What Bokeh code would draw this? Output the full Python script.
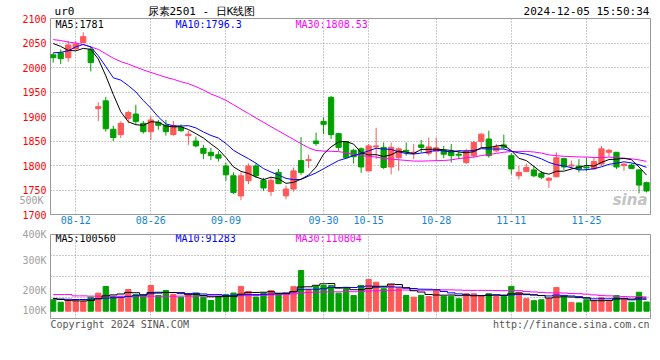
from bokeh.plotting import figure
from bokeh.layouts import column
from bokeh.models import Range1d, FixedTicker, Label, ColumnDataSource, LinearAxis
from bokeh.embed import file_html
from bokeh.resources import INLINE

# ---------------- data ----------------
dates = ["08-07", "08-08", "08-09", "08-12", "08-13", "08-14", "08-15", "08-16", "08-19", "08-20",
         "08-21", "08-22", "08-23", "08-26", "08-27", "08-28", "08-29", "08-30", "09-02", "09-03",
         "09-04", "09-05", "09-06", "09-09", "09-10", "09-11", "09-12", "09-13", "09-18", "09-19",
         "09-20", "09-23", "09-24", "09-25", "09-26", "09-27", "09-30", "10-08", "10-09", "10-10",
         "10-11", "10-14", "10-15", "10-16", "10-17", "10-18", "10-21", "10-22", "10-23", "10-24",
         "10-25", "10-28", "10-29", "10-30", "10-31", "11-01", "11-04", "11-05", "11-06", "11-07",
         "11-08", "11-11", "11-12", "11-13", "11-14", "11-15", "11-18", "11-19", "11-20", "11-21",
         "11-22", "11-25", "11-26", "11-27", "11-28", "11-29", "12-02", "12-03", "12-04", "12-05"]

opens = [2026, 2030, 2020, 2038, 2051, 2037, 1916, 1932, 1874, 1863,
         1896, 1905, 1886, 1869, 1888, 1882, 1863, 1878, 1861, 1850,
         1835, 1827, 1822, 1799, 1779, 1738, 1769, 1799, 1770, 1747,
         1786, 1738, 1752, 1810, 1810, 1850, 1890, 1939, 1865, 1849,
         1831, 1834, 1789, 1838, 1837, 1797, 1816, 1831, 1825, 1842,
         1825, 1829, 1831, 1829, 1823, 1806, 1820, 1849, 1854, 1830,
         1842, 1820, 1779, 1788, 1791, 1784, 1770, 1777, 1814, 1799,
         1799, 1797, 1793, 1803, 1827, 1827, 1800, 1801, 1791, 1765]
highs = [2030, 2037, 2054, 2054, 2072, 2044, 1929, 1940, 1881, 1890,
         1912, 1924, 1891, 1901, 1893, 1893, 1891, 1884, 1871, 1859,
         1842, 1836, 1829, 1806, 1786, 1786, 1804, 1804, 1775, 1775,
         1793, 1759, 1796, 1858, 1822, 1867, 1898, 1942, 1867, 1850,
         1834, 1837, 1844, 1877, 1847, 1847, 1837, 1847, 1844, 1852,
         1857, 1857, 1840, 1844, 1830, 1834, 1850, 1866, 1871, 1844,
         1863, 1825, 1799, 1804, 1799, 1789, 1776, 1827, 1816, 1810,
         1813, 1816, 1816, 1840, 1834, 1827, 1804, 1804, 1793, 1767]
lows = [2010, 2007, 2012, 2035, 2050, 1992, 1891, 1869, 1850, 1856,
        1886, 1884, 1865, 1852, 1873, 1861, 1861, 1869, 1842, 1837,
        1813, 1811, 1808, 1769, 1742, 1729, 1762, 1775, 1748, 1738,
        1762, 1731, 1747, 1781, 1795, 1840, 1864, 1854, 1830, 1815,
        1804, 1785, 1789, 1813, 1793, 1782, 1789, 1820, 1813, 1827,
        1820, 1810, 1815, 1806, 1813, 1803, 1815, 1836, 1816, 1827,
        1834, 1782, 1772, 1786, 1776, 1772, 1754, 1776, 1791, 1793,
        1786, 1789, 1791, 1799, 1818, 1793, 1789, 1793, 1743, 1745]
closes = [2020, 2018, 2046, 2048, 2063, 2010, 1920, 1875, 1857, 1886,
          1908, 1890, 1869, 1893, 1882, 1869, 1881, 1871, 1864, 1840,
          1825, 1820, 1815, 1781, 1745, 1779, 1799, 1779, 1754, 1770,
          1763, 1752, 1789, 1786, 1812, 1845, 1884, 1863, 1837, 1816,
          1818, 1797, 1840, 1840, 1796, 1837, 1834, 1829, 1827, 1837,
          1838, 1836, 1823, 1820, 1821, 1830, 1847, 1864, 1820, 1838,
          1837, 1793, 1786, 1796, 1779, 1776, 1774, 1816, 1797, 1801,
          1793, 1795, 1808, 1834, 1831, 1797, 1803, 1794, 1760, 1748]
volumes = [88000, 69000, 82000, 77000, 77000, 108000, 139000, 190000, 113000, 112000,
           167000, 129000, 114000, 198000, 121000, 159000, 128000, 108000, 120000, 139000,
           107000, 82000, 113000, 129000, 140000, 191000, 152000, 109000, 138000, 159000,
           134000, 139000, 189000, 313000, 165000, 190000, 198000, 197000, 139000, 172000,
           121000, 198000, 244000, 223000, 173000, 206000, 180000, 121000, 108000, 122000,
           113000, 160000, 114000, 115000, 96000, 135000, 134000, 114000, 135000, 113000,
           114000, 191000, 145000, 96000, 81000, 88000, 97000, 183000, 109000, 68000,
           64000, 88000, 77000, 106000, 76000, 121000, 96000, 69000, 146000, 71000]

# moving-average values at the start of the window (earlier sessions are off-chart)
ma5_head = [2049, 2043, 2035, 2034]
ma10_head = [2030, 2031, 2034, 2042, 2047, 2042, 2024, 2002, 1979]
ma30_head = [2057, 2055, 2052, 2050, 2047, 2042, 2037, 2028, 2019, 2012,
             2007, 2001, 1995, 1990, 1985, 1980, 1976, 1971, 1967, 1961,
             1954, 1946, 1940, 1933, 1924, 1915, 1906, 1897, 1888]
vma5_head = [98000, 90000, 84000, 80000]
vma10_head = [95000, 94000, 92000, 90000, 90000, 92000, 96000, 100000, 103000]
vma30_head = [128000, 128000, 128000, 118000, 118000, 116000, 115000, 115000, 115000, 115000,
              115000, 115000, 115000, 115000, 115000, 115000, 115000, 116000, 116000, 116000,
              116000, 117000, 117000, 118000, 118000, 119000, 120000, 121000, 122000]

tick_labels = ["08-12", "08-26", "09-09", "09-30", "10-15", "10-28", "11-11", "11-25"]
price_ticks = [1700, 1750, 1800, 1850, 1900, 1950, 2000, 2050, 2100]
price_ma_texts = ["MA5:1781", "MA10:1796.3", "MA30:1808.53"]
vol_ma_texts = ["MA5:100560", "MA10:91283", "MA30:110804"]
vol_axis_texts = ["500K", "400K", "300K", "200K", "100K"]
header_texts = ["ur0", "尿素2501 - 日K线图", "2024-12-05 15:50:34"]
footer_texts = ["Copyright 2024 SINA.COM", "http://finance.sina.com.cn"]

# ---------------- derived ----------------
def rolling(vals, head, w):
    out = list(head)
    for i in range(len(head), len(vals)):
        out.append(sum(vals[i - w + 1:i + 1]) / w)
    return out

n = len(dates)
xs = list(range(n))
RED = "#ff5858"
GREEN = "#00a000"
colors = [RED if c >= o else GREEN for o, c in zip(opens, closes)]

src = ColumnDataSource(dict(
    x=xs, o=opens, h=highs, l=lows, c=closes,
    top=[max(o, c) for o, c in zip(opens, closes)],
    bot=[min(o, c) for o, c in zip(opens, closes)],
    color=colors, vol=volumes,
    ma5=rolling(closes, ma5_head, 5), ma10=rolling(closes, ma10_head, 10),
    ma30=rolling(closes, ma30_head, 30),
    vma5=rolling(volumes, vma5_head, 5), vma10=rolling(volumes, vma10_head, 10),
    vma30=rolling(volumes, vma30_head, 30),
))

MONO = "DejaVu Sans Mono"
XS, XE = -0.36, 79.53
PY0, PY1 = 1700, 2100
VS, VE = -56000, 590000
GRAY = "#999999"

# helpers: pixel of the picture -> data coordinates
def px(rx):
    return round(XS + (rx - 50) * (XE - XS) / 600.0, 3)

def py(ry):
    return PY0 + (214 - ry) * (PY1 - PY0) / 196.0

def vy(ry):
    return VS + (318 - ry) * (VE - VS) / 84.0

def style_axis(ax, color, size="10px", standoff=4, font=MONO):
    ax.major_label_text_color = color
    ax.major_label_text_font = font
    ax.major_label_text_font_size = size
    ax.major_label_standoff = standoff
    ax.axis_line_color = None
    ax.major_tick_line_color = None
    ax.minor_tick_line_color = None
    ax.major_tick_out = 0
    ax.major_tick_in = 0
    ax.minor_tick_out = 0
    ax.minor_tick_in = 0

def style_grid(g):
    g.grid_line_color = GRAY
    g.grid_line_dash = "1 2"
    g.grid_line_width = 1

xticks = [dates.index(t) for t in tick_labels]

# ---------------- price panel ----------------
p = figure(frame_width=600, frame_height=196, x_range=Range1d(XS, XE), y_range=Range1d(PY0, PY1),
           output_backend="svg", toolbar_location=None,
           min_border_left=50, min_border_right=6, min_border_top=18, min_border_bottom=13)
p.outline_line_color = GRAY
p.background_fill_color = "white"
p.border_fill_color = "white"

p.yaxis.ticker = FixedTicker(ticks=price_ticks)
style_axis(p.yaxis[0], "#ff0000")

# volume scale label that sits beside the price panel
t500 = int(round(py(200.5)))
vaxis = LinearAxis(ticker=FixedTicker(ticks=[t500]), major_label_overrides={t500: vol_axis_texts[0]})
style_axis(vaxis, "#a0a0a0", standoff=-24)
p.add_layout(vaxis, "left")

p.xaxis.ticker = FixedTicker(ticks=xticks)
p.xaxis.major_label_overrides = {i: t for i, t in zip(xticks, tick_labels)}
style_axis(p.xaxis[0], "#1383d2", standoff=1)

# header line (code, title, timestamp)
hdr_ticks = [px(64), px(201), px(586)]
hdr = LinearAxis(ticker=FixedTicker(ticks=hdr_ticks),
                 major_label_overrides={t: s for t, s in zip(hdr_ticks, header_texts)})
style_axis(hdr, "#000000", size="11px", standoff=1)
p.add_layout(hdr, "above")

style_grid(p.xgrid)
style_grid(p.ygrid)

p.segment(x0="x", y0="l", x1="x", y1="h", line_color="color", line_width=1, source=src)
p.vbar(x="x", width=0.7, top="top", bottom="bot", fill_color="color", line_color="color",
       line_width=1, source=src)
p.line("x", "ma30", line_color="#ff00ff", line_width=1, source=src)
p.line("x", "ma10", line_color="#0000ff", line_width=1, source=src)
p.line("x", "ma5", line_color="#000000", line_width=1, source=src)

def lab(fig, x, y, text, color="black", size="10px", font=MONO, align="left", style="normal"):
    fig.add_layout(Label(x=x, y=y, text=text, text_color=color, text_font=font,
                         text_font_size=size, text_align=align, text_baseline="middle",
                         text_font_style=style))

lab(p, px(55), py(24.3), price_ma_texts[0], color="#000000")
lab(p, px(175), py(24.3), price_ma_texts[1], color="#0000ff")
lab(p, px(295), py(24.3), price_ma_texts[2], color="#ff00ff")
lab(p, px(647), py(199), "sina", color="#c4c4c4", size="15px", font="DejaVu Sans",
    align="right", style="bold italic")

# ---------------- volume panel ----------------
p2 = figure(frame_width=600, frame_height=84, x_range=p.x_range, y_range=Range1d(VS, VE),
            output_backend="svg", toolbar_location=None,
            min_border_left=50, min_border_right=6, min_border_top=7, min_border_bottom=12)
p2.outline_line_color = GRAY
p2.border_fill_color = "white"

# footer texts carried by the lower axis
ftr_ticks = [px(119.2), px(570.7)]
p2.xaxis.ticker = FixedTicker(ticks=ftr_ticks)
p2.xaxis.major_label_overrides = {t: s for t, s in zip(ftr_ticks, footer_texts)}
style_axis(p2.xaxis[0], "#555555", standoff=0)

p2.xgrid.ticker = FixedTicker(ticks=xticks)
p2.ygrid.ticker = FixedTicker(ticks=[int(vy(255)), int(vy(276)), int(vy(297))])
style_grid(p2.xgrid)
style_grid(p2.ygrid)

vticks = [VE, int(vy(260.3)), int(vy(290.3)), int(vy(310.3))]
p2.yaxis.ticker = FixedTicker(ticks=vticks)
p2.yaxis.major_label_overrides = {t: s for t, s in zip(vticks, vol_axis_texts[1:])}
style_axis(p2.yaxis[0], "#a0a0a0")

p2.vbar(x="x", width=0.7, top="vol", bottom=0, fill_color="color", line_color="color",
        line_width=1, source=src)
p2.step("x", "vma30", mode="center", line_color="#ff00ff", line_width=1, source=src)
p2.step("x", "vma10", mode="center", line_color="#0000ff", line_width=1, source=src)
p2.step("x", "vma5", mode="center", line_color="#000000", line_width=1, source=src)

lab(p2, px(55), vy(238.3), vol_ma_texts[0], color="#000000")
lab(p2, px(175), vy(238.3), vol_ma_texts[1], color="#0000ff")
lab(p2, px(295), vy(238.3), vol_ma_texts[2], color="#ff00ff")

layout = column(p, p2, spacing=0)
open("out.html", "w").write(file_html(layout, INLINE))
